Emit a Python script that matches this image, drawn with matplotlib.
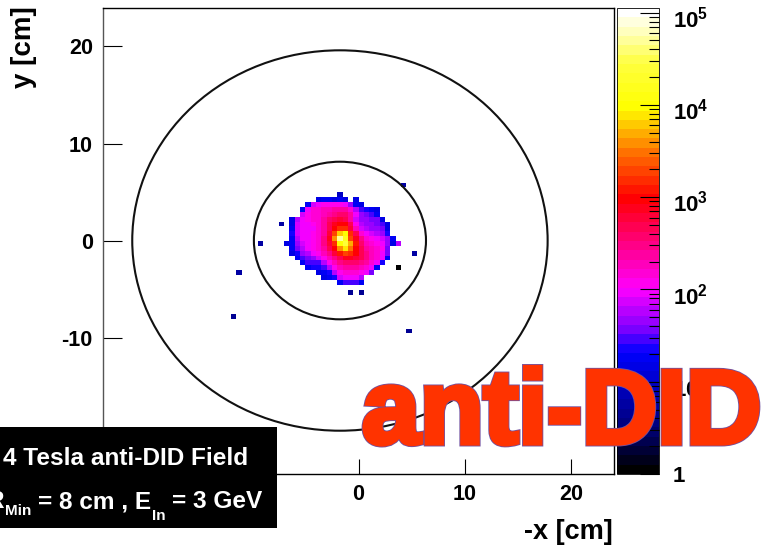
import numpy as np
import matplotlib
matplotlib.use('Agg')
import matplotlib.pyplot as plt
import matplotlib.patheffects as pe
from matplotlib.colors import LinearSegmentedColormap, LogNorm
from matplotlib.patches import Ellipse, Rectangle
from matplotlib.transforms import ScaledTranslation

W, H = 765, 548

plt.rcParams['font.family'] = ['Liberation Sans', 'DejaVu Sans']
plt.rcParams['font.weight'] = 'bold'
plt.rcParams['axes.unicode_minus'] = False
plt.rcParams['mathtext.fontset'] = 'custom'
plt.rcParams['mathtext.rm'] = 'Liberation Sans:bold'
plt.rcParams['mathtext.bf'] = 'Liberation Sans:bold'

# log10(counts) x 10 in the 0.5 cm bins of the central blob, 0 = empty
# columns start at x = -6.5, rows start at y = 5 and go downwards
blob_x0 = -6.5
blob_y0 = 5.0
blob = [
    [0, 0, 0, 0, 0, 0, 0, 0, 0, 10, 0, 0, 0, 0, 0, 0, 0, 0, 0, 0],
    [0, 0, 0, 0, 0, 12, 13, 13, 12, 13, 12, 0, 12, 0, 0, 0, 0, 0, 0, 0],
    [0, 0, 0, 13, 19, 20, 21, 21, 21, 21, 20, 17, 13, 12, 0, 0, 0, 0, 0, 0],
    [0, 0, 13, 20, 22, 22, 23, 23, 24, 24, 24, 22, 18, 15, 14, 13, 12, 0, 0, 0],
    [0, 0, 19, 21, 22, 22, 23, 24, 25, 26, 26, 24, 20, 17, 16, 15, 13, 0, 0, 0],
    [12, 18, 20, 21, 22, 22, 24, 26, 27, 28, 27, 24, 19, 17, 17, 16, 16, 12, 0, 0],
    [12, 19, 20, 20, 21, 22, 24, 27, 29, 30, 30, 27, 21, 18, 17, 17, 16, 15, 12, 0],
    [13, 19, 20, 20, 20, 22, 24, 27, 30, 32, 32, 28, 23, 19, 18, 17, 17, 16, 12, 0],
    [14, 19, 20, 20, 21, 22, 24, 28, 33, 38, 40, 32, 27, 22, 20, 19, 18, 17, 14, 0],
    [13, 18, 20, 20, 21, 22, 25, 29, 36, 47, 42, 33, 29, 25, 22, 21, 20, 19, 17, 13],
    [13, 17, 19, 20, 21, 22, 25, 28, 32, 40, 44, 37, 31, 26, 23, 22, 21, 20, 17, 12],
    [13, 16, 18, 20, 21, 22, 24, 27, 30, 36, 39, 35, 30, 27, 24, 23, 22, 21, 16, 0],
    [12, 14, 17, 18, 20, 21, 23, 25, 28, 31, 33, 32, 30, 27, 25, 23, 22, 20, 16, 0],
    [0, 13, 15, 16, 17, 19, 21, 23, 25, 27, 29, 29, 28, 27, 25, 23, 22, 20, 13, 0],
    [0, 0, 13, 15, 15, 15, 18, 21, 23, 25, 26, 26, 26, 25, 24, 22, 20, 14, 0, 0],
    [0, 0, 0, 13, 14, 14, 15, 18, 21, 23, 24, 24, 24, 23, 22, 20, 13, 0, 0, 0],
    [0, 0, 0, 0, 0, 12, 13, 14, 18, 21, 22, 22, 22, 21, 20, 16, 0, 0, 0, 0],
    [0, 0, 0, 0, 0, 0, 12, 13, 14, 19, 20, 20, 20, 18, 0, 0, 0, 0, 0, 0],
    [0, 0, 0, 0, 0, 0, 0, 0, 0, 13, 15, 15, 15, 13, 0, 0, 0, 0, 0, 0],
]

# isolated bins outside the blob
iso_x = [-9.1, -7.1, -6.6, 4.4, 5.45, 4.0, -0.87, 0.14, 4.95, -11.1, -11.5, 3.6]
iso_y = [-0.2, 1.6, -0.2, 5.6, -1.15, -2.6, -5.05, -5.05, -9.4, -3.1, -7.9, -0.2]
iso_log = [8, 8, 12, 8, 8, 1, 7, 7, 7, 8, 7, 18]

# circles (cm)
circle_cx = -1.75
circle_cy = 0.05
circle_r = [8.1, 19.55]

x_ticks = [-20, -10, 0, 10, 20]
y_ticks = [-20, -10, 0, 10, 20]
cbar_ticks = [1, 10, 100, 1000, 10000, 100000]
cbar_labels = ['1', r'$\mathbf{10^{1}}$', r'$\mathbf{10^{2}}$', r'$\mathbf{10^{3}}$',
               r'$\mathbf{10^{4}}$', r'$\mathbf{10^{5}}$']
z_max = 10 ** 5.05

# ROOT style palette, position in log scale and colour
pal_pos = [0, 0.5, 1.3, 1.56, 2, 2.5, 3, 3.5, 4, 4.5, 4.8, 5.05]
pal_col = ['#000000', '#000080', '#0000ff', '#8000ff', '#ff00ff', '#ff0080', '#ff0000',
           '#ff7000', '#ffff00', '#ffff40', '#ffffb0', '#ffffff']
cmap = LinearSegmentedColormap.from_list(
    'did', [(p / 5.05, c) for p, c in zip(pal_pos, pal_col)], N=50)
norm = LogNorm(1, z_max)


def px_axes(x0, y0, x1, y1):
    # pixel box, y measured from the top of the picture
    return fig.add_axes([x0 / W, 1 - y1 / H, (x1 - x0) / W, (y1 - y0) / H])


def px_text(x, y, s, **kw):
    fig.text(x / W, 1 - y / H, s, **kw)


fig = plt.figure(figsize=(W / 100, H / 100), dpi=100)
ax = px_axes(102.5, 8, 613.5, 474)

# fill the histogram
edges = np.arange(-24, 24.01, 0.5)
counts = np.zeros((len(edges) - 1, len(edges) - 1))
for r, row in enumerate(blob):
    for c, v in enumerate(row):
        if v > 0:
            i = int(np.floor((blob_y0 - 0.5 * (r + 1) + 24) / 0.5 + 0.5))
            j = int(np.floor((blob_x0 + 0.5 * c + 24) / 0.5 + 0.5))
            counts[i, j] = 10 ** (v / 10)
for x, y, v in zip(iso_x, iso_y, iso_log):
    i = np.searchsorted(edges, y) - 1
    j = np.searchsorted(edges, x) - 1
    counts[i, j] = 10 ** (v / 10)

mesh = ax.pcolormesh(edges, edges, np.ma.masked_equal(counts, 0), cmap=cmap, norm=norm)

for r in circle_r:
    ax.add_patch(Ellipse((circle_cx, circle_cy), 2 * r, 2 * r, fill=False,
                         edgecolor='#111111', linewidth=1.5))

ax.set_xlim(-24.1, 24)
ax.set_ylim(-23.95, 23.95)
ax.set_xticks(x_ticks)
ax.set_yticks(y_ticks)
ax.tick_params(axis='x', direction='in', length=11, width=0.8, labelsize=15.5, pad=7)
ax.tick_params(axis='y', direction='in', length=14, width=0.8, labelsize=15.5, pad=7)
for s in ax.spines.values():
    s.set_linewidth(1.0)
ax.spines['left'].set_color('#555555')

px_text(613, 532, '-x [cm]', ha='right', va='center', fontsize=19.5)
px_text(24, 6, 'y [cm]', ha='center', va='top', rotation=90, fontsize=20)

# colour bar
cax = px_axes(617, 8, 659, 474)
cb = fig.colorbar(mesh, cax=cax)
cb.set_ticks(cbar_ticks, labels=cbar_labels)
cb.outline.set_linewidth(0.6)
cax.tick_params(which='major', direction='in', length=14, width=0.8, labelsize=16, pad=10)
cax.tick_params(which='minor', direction='in', length=7, width=0.8)
down = ScaledTranslation(0, -3 / 72, fig.dpi_scale_trans)
for lab in cax.get_yticklabels()[1:]:
    lab.set_transform(lab.get_transform() + down)

# black label box, partly cut by the left edge
fig.add_artist(Rectangle((0, 1 - 528 / H), 277 / W, 101 / H, transform=fig.transFigure,
                         facecolor='black', edgecolor='none', zorder=5))
white = dict(color='white', va='baseline', zorder=6)
px_text(3, 465, '4 Tesla anti-DID Field', fontsize=17.6, **white)
px_text(-14, 508, 'R', fontsize=17.6, **white)
px_text(5, 515, 'Min', fontsize=11, **white)
px_text(38, 508, '= 8 cm , E', fontsize=17.6, **white)
px_text(152, 520, 'In', fontsize=11, **white)
px_text(172, 508, '= 3 GeV', fontsize=17.6, **white)

# big red overlay word
px_text(362, 443, 'anti-DID', color='#ff3300', fontsize=75, va='baseline', zorder=7,
        path_effects=[pe.withStroke(linewidth=5, foreground='#7050a0', joinstyle='miter'),
                      pe.withStroke(linewidth=3.8, foreground='#ff3300', joinstyle='miter')])

fig.savefig('out.png', dpi=100)
